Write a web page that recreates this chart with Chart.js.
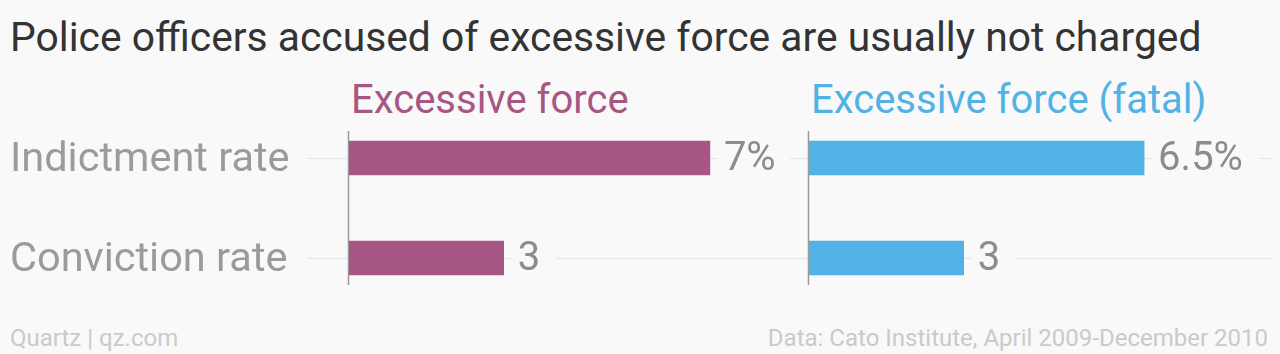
<!DOCTYPE html>
<html>
<head>
<meta charset="utf-8">
<script src="https://cdn.jsdelivr.net/npm/chart.js@4.4.1/dist/chart.umd.min.js"></script>
<style>
  html, body { margin: 0; padding: 0; background: #f9f9f9; }
  body { width: 1280px; height: 354px; position: relative; overflow: hidden; font-family: Roboto, sans-serif; }
  .title { position: absolute; left: 10px; top: 13px; font-size: 40.8px; color: #333; white-space: nowrap; line-height: normal; }
  .head { position: absolute; top: 76px; font-size: 40px; white-space: nowrap; line-height: normal; }
  .foot { position: absolute; top: 324px; font-size: 24px; color: #cacaca; white-space: nowrap; line-height: normal; }
  canvas { position: absolute; }
</style>
</head>
<body>
<div class="title">Police officers accused of excessive force are usually not charged</div>
<div class="head" style="left:351px;color:#a85784">Excessive force</div>
<div class="head" style="left:811px;color:#52b2e5">Excessive force (fatal)</div>
<div class="foot" style="left:10px">Quartz | qz.com</div>
<div class="foot" style="right:12px">Data: Cato Institute, April 2009-December 2010</div>

<div style="position:absolute;left:0;top:84px;width:813px;height:248px"><canvas id="chart1"></canvas></div>
<div style="position:absolute;left:790px;top:84px;width:490px;height:248px"><canvas id="chart2"></canvas></div>

<script>
const categories = ['Indictment rate', 'Conviction rate'];
const excessiveForce = [7, 3];
const excessiveForceFatal = [6.5, 3];
const valueLabels1 = ['7%', '3'];
const valueLabels2 = ['6.5%', '3'];

const BG = '#f9f9f9';
const FONT = 'Roboto, sans-serif';

// gridlines, zero axis line and value labels
function decorPlugin(gridFrom, gridTo, labels) {
    return {
        id: 'decor',
        beforeDatasetsDraw(chart) {
            const ctx = chart.ctx;
            const y = chart.scales.y;
            const x = chart.scales.x;
            ctx.save();
            ctx.strokeStyle = '#e6e6e6';
            ctx.lineWidth = 1;
            categories.forEach((c, i) => {
                const py = Math.round(y.getPixelForValue(i)) + 0.5;
                ctx.beginPath();
                ctx.moveTo(gridFrom, py);
                ctx.lineTo(gridTo, py);
                ctx.stroke();
            });
            const top = y.getPixelForValue(0) - 27;
            const bottom = y.getPixelForValue(categories.length - 1) + 27;
            const px = Math.round(x.getPixelForValue(0)) - 0.5;
            ctx.strokeStyle = '#999';
            ctx.lineWidth = 1.5;
            ctx.beginPath();
            ctx.moveTo(px, top);
            ctx.lineTo(px, bottom);
            ctx.stroke();
            ctx.restore();
        },
        afterDatasetsDraw(chart) {
            const ctx = chart.ctx;
            const meta = chart.getDatasetMeta(0);
            ctx.save();
            ctx.font = '40px ' + FONT;
            ctx.textBaseline = 'middle';
            ctx.textAlign = 'left';
            meta.data.forEach((bar, i) => {
                const txt = labels[i];
                const w = ctx.measureText(txt).width;
                const lx = bar.x + 14;
                // mask the gridline behind the label
                ctx.fillStyle = BG;
                ctx.fillRect(lx - 6, bar.y - 20, w + 22, 40);
                ctx.fillStyle = '#8c8c8c';
                ctx.fillText(txt, lx, bar.y + 2);
            });
            ctx.restore();
        }
    };
}

function makeChart(id, data, color, showLabels, pad, gridFrom, gridTo, labels) {
    return new Chart(document.getElementById(id), {
        type: 'bar',
        data: {
            labels: categories,
            datasets: [{
                data: data,
                backgroundColor: color,
                barThickness: 34
            }]
        },
        options: {
            indexAxis: 'y',
            responsive: true,
            maintainAspectRatio: false,
            animation: false,
            layout: { padding: pad },
            plugins: { legend: { display: false }, tooltip: { enabled: false } },
            scales: {
                x: { display: false, min: 0, max: 9 },
                y: {
                    display: showLabels,
                    grid: { display: false, drawTicks: false },
                    border: { display: false },
                    ticks: {
                        color: '#9b9b9b',
                        padding: 0,
                        crossAlign: 'far',
                        labelOffset: 3,
                        font: { family: FONT, size: 41.5, lineHeight: 1.16 }
                    },
                    afterFit(scale) { if (showLabels) scale.width = 339; }
                }
            }
        },
        plugins: [decorPlugin(gridFrom, gridTo, labels)]
    });
}

makeChart('chart1', excessiveForce, '#a85784', true,
    { left: 10, right: 0, top: 0, bottom: 0 }, 308, 790, valueLabels1);
makeChart('chart2', excessiveForceFatal, '#52b2e5', false,
    { left: 19, right: 7, top: 24, bottom: 24 }, 0, 482, valueLabels2);
</script>
</body>
</html>
